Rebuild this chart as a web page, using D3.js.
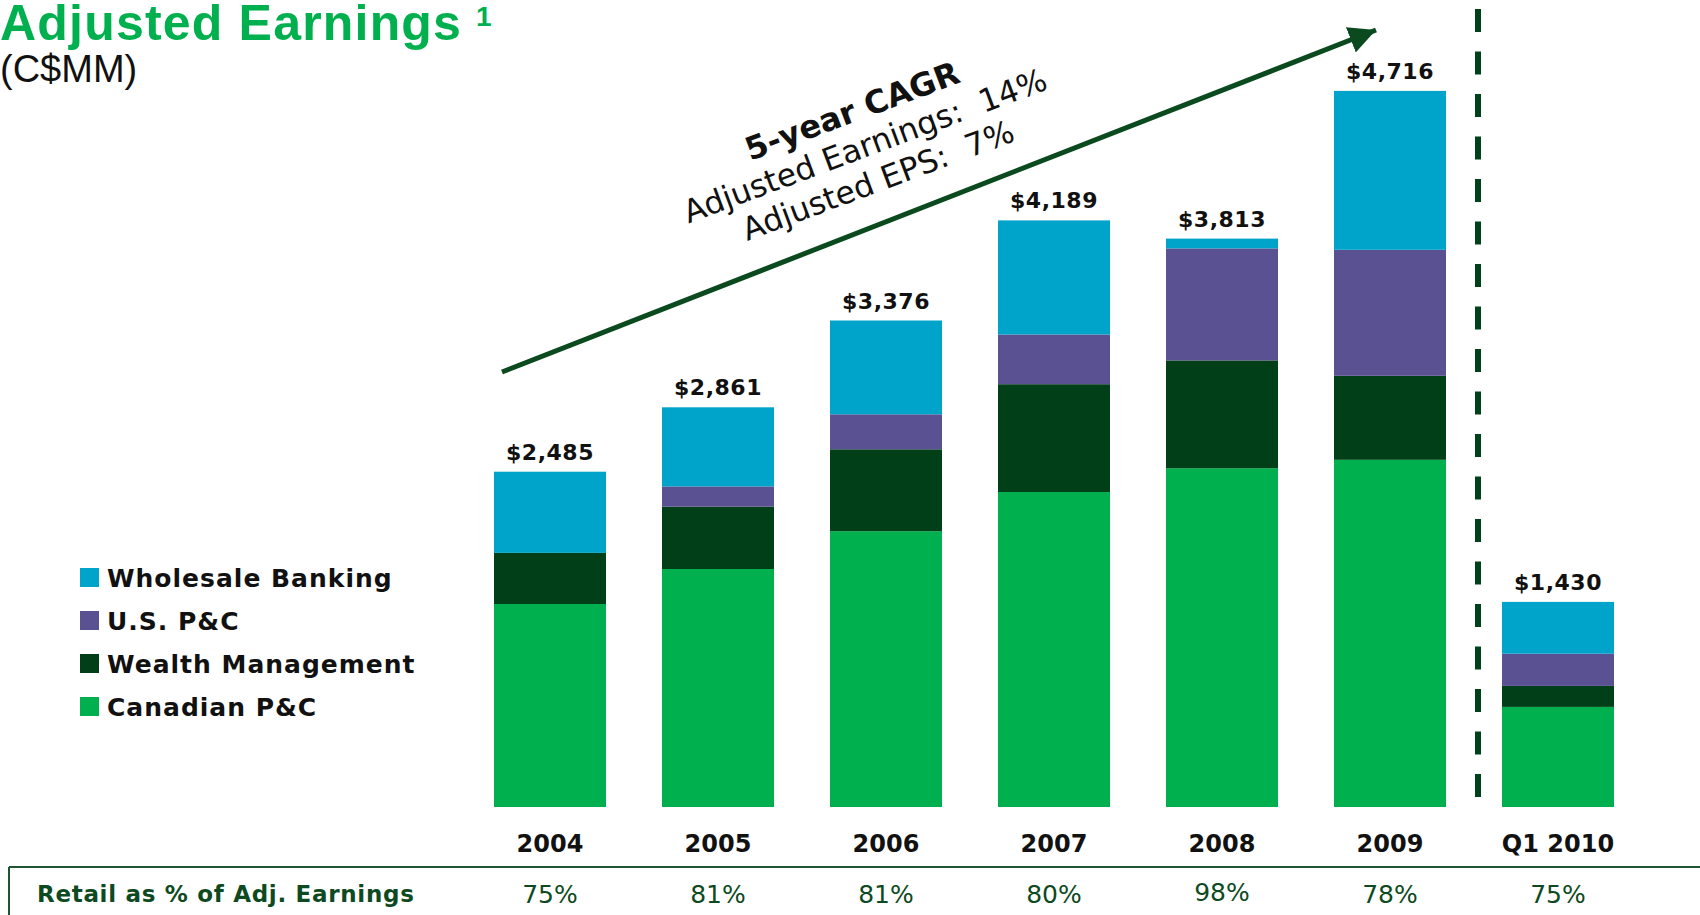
<!DOCTYPE html>
<html>
<head>
<meta charset="utf-8">
<script src="https://cdn.jsdelivr.net/npm/d3@7"></script>
<style>
  body { margin: 0; background: #fff; }
  svg { display: block; }
  text { font-family: "DejaVu Sans", sans-serif; }
  text.sans { font-family: "Liberation Sans", Arial, sans-serif; }
</style>
</head>
<body>
<svg class="chart" width="1700" height="915"></svg>
<script>
// periods on the x axis
var periods = ["2004", "2005", "2006", "2007", "2008", "2009", "Q1 2010"];

// segment earnings (C$MM)
var canadianPC = [1450, 1700, 1970, 2250, 2420, 2480, 715];
var wealthMgmt = [365, 445, 585, 770, 770, 600, 150];
var usPC = [0, 145, 250, 355, 800, 900, 230];
var wholesale = [580, 565, 670, 815, 70, 1135, 370];

// labels printed above the bars and in the table row
var totals = [2485, 2861, 3376, 4189, 3813, 4716, 1430];
var retailPct = ["75%", "81%", "81%", "80%", "98%", "78%", "75%"];

var seriesNames = ["Wholesale Banking", "U.S. P&C", "Wealth Management", "Canadian P&C"];
var cagrLines = ["5-year CAGR", "Adjusted Earnings:  14%", "Adjusted EPS:  7%"];

var svg = d3.select(".chart");

var keys = ["canadian", "wealth", "us", "wholesale"];
var color = d3.scaleOrdinal()
    .domain(keys)
    .range(["#00b04f", "#003f17", "#5a5193", "#00a3c9"]);

var rows = periods.map(function (p, i) {
  return { period: p, canadian: canadianPC[i], wealth: wealthMgmt[i], us: usPC[i], wholesale: wholesale[i] };
});

var x = d3.scaleBand()
    .domain(periods)
    .range([494, 1614])
    .paddingInner(1 / 3)
    .paddingOuter(0);

var y = d3.scaleLinear()
    .domain([0, 5000])
    .range([807, 107]);

var stacked = d3.stack().keys(keys)(rows);

// bars
svg.append("g")
    .attr("class", "bars")
    .selectAll("g")
    .data(stacked)
    .enter().append("g")
    .attr("fill", function (d) { return color(d.key); })
    .selectAll("rect")
    .data(function (d) { return d; })
    .enter().append("rect")
    .attr("x", function (d) { return x(d.data.period); })
    .attr("width", x.bandwidth())
    .attr("y", function (d) { return y(d[1]); })
    .attr("height", function (d) { return y(d[0]) - y(d[1]); });

// total labels sit on top of each stack
var topSeries = stacked[stacked.length - 1];
var money = d3.format("$,");
svg.append("g")
    .selectAll("text")
    .data(topSeries)
    .enter().append("text")
    .attr("x", function (d) { return x(d.data.period) + x.bandwidth() / 2; })
    .attr("y", function (d) { return y(d[1]) - 12; })
    .attr("text-anchor", "middle")
    .attr("font-size", 22)
    .attr("font-weight", "bold")
    .attr("letter-spacing", 0.5)
    .attr("fill", "#111")
    .text(function (d, i) { return money(totals[i]); });

// period labels
svg.append("g")
    .selectAll("text")
    .data(periods)
    .enter().append("text")
    .attr("x", function (d) { return x(d) + x.bandwidth() / 2; })
    .attr("y", 852)
    .attr("text-anchor", "middle")
    .attr("font-size", 24)
    .attr("font-weight", "bold")
    .attr("fill", "#111")
    .text(function (d) { return d; });

// table row
svg.append("line")
    .attr("x1", 9).attr("x2", 1700)
    .attr("y1", 867).attr("y2", 867)
    .attr("stroke", "#1e5631")
    .attr("stroke-width", 2);
svg.append("line")
    .attr("x1", 9).attr("x2", 9)
    .attr("y1", 867).attr("y2", 915)
    .attr("stroke", "#1e5631")
    .attr("stroke-width", 2);

svg.append("text")
    .attr("x", 37)
    .attr("y", 902)
    .attr("font-size", 23)
    .attr("font-weight", "bold")
    .attr("letter-spacing", 0.7)
    .attr("fill", "#0d4a22")
    .text("Retail as % of Adj. Earnings");

svg.append("g")
    .selectAll("text")
    .data(retailPct)
    .enter().append("text")
    .attr("x", function (d, i) { return x(periods[i]) + x.bandwidth() / 2; })
    .attr("y", function (d, i) { return i === 4 ? 901 : 903; })
    .attr("text-anchor", "middle")
    .attr("font-size", 25)
    .attr("fill", "#0d4a22")
    .text(function (d) { return d; });

// divider between annual and quarterly
svg.append("line")
    .attr("x1", 1478).attr("x2", 1478)
    .attr("y1", 9).attr("y2", 816)
    .attr("stroke", "#00401a")
    .attr("stroke-width", 6)
    .attr("stroke-dasharray", "23,19.5");

// legend
var legend = svg.append("g")
    .attr("class", "legend")
    .selectAll("g")
    .data(seriesNames)
    .enter().append("g")
    .attr("transform", function (d, i) { return "translate(80," + (568 + i * 43) + ")"; });

legend.append("rect")
    .attr("width", 19)
    .attr("height", 19)
    .attr("fill", function (d, i) { return color(keys[keys.length - 1 - i]); });

legend.append("text")
    .attr("x", 27)
    .attr("y", 19)
    .attr("font-size", 25)
    .attr("font-weight", "bold")
    .attr("letter-spacing", 1.0)
    .attr("fill", "#111")
    .text(function (d) { return d; });

// growth arrow
svg.append("defs").append("marker")
    .attr("id", "head")
    .attr("viewBox", "0 0 10 10")
    .attr("refX", 10)
    .attr("refY", 5)
    .attr("markerUnits", "userSpaceOnUse")
    .attr("markerWidth", 27)
    .attr("markerHeight", 27)
    .attr("orient", "auto")
    .append("path")
    .attr("d", "M0,0 L10,5 L0,10 Z")
    .attr("fill", "#0a4a1e");

svg.append("line")
    .attr("x1", 502).attr("y1", 372)
    .attr("x2", 1376).attr("y2", 30)
    .attr("stroke", "#0a4a1e")
    .attr("stroke-width", 5)
    .attr("marker-end", "url(#head)");

var cagr = svg.append("g")
    .attr("transform", "translate(869,156) rotate(-20.5)");

cagr.selectAll("text")
    .data(cagrLines)
    .enter().append("text")
    .attr("x", 0)
    .attr("y", function (d, i) { return (i - 1) * 37; })
    .attr("text-anchor", "middle")
    .attr("font-size", function (d, i) { return i === 0 ? 32 : 31.5; })
    .attr("font-weight", function (d, i) { return i === 0 ? "bold" : "normal"; })
    .style("white-space", "pre")
    .attr("fill", "#111")
    .text(function (d) { return d; });

// title
svg.append("text")
    .attr("class", "sans")
    .attr("x", 0)
    .attr("y", 40)
    .attr("font-size", 50)
    .attr("font-weight", "bold")
    .attr("letter-spacing", 1.2)
    .attr("fill", "#00b04f")
    .text("Adjusted Earnings");

svg.append("text")
    .attr("class", "sans")
    .attr("x", 476)
    .attr("y", 26)
    .attr("font-size", 28)
    .attr("font-weight", "bold")
    .attr("fill", "#00b04f")
    .text("1");

svg.append("text")
    .attr("class", "sans")
    .attr("x", 0)
    .attr("y", 82)
    .attr("font-size", 38)
    .attr("fill", "#111")
    .text("(C$MM)");
</script>
</body>
</html>
